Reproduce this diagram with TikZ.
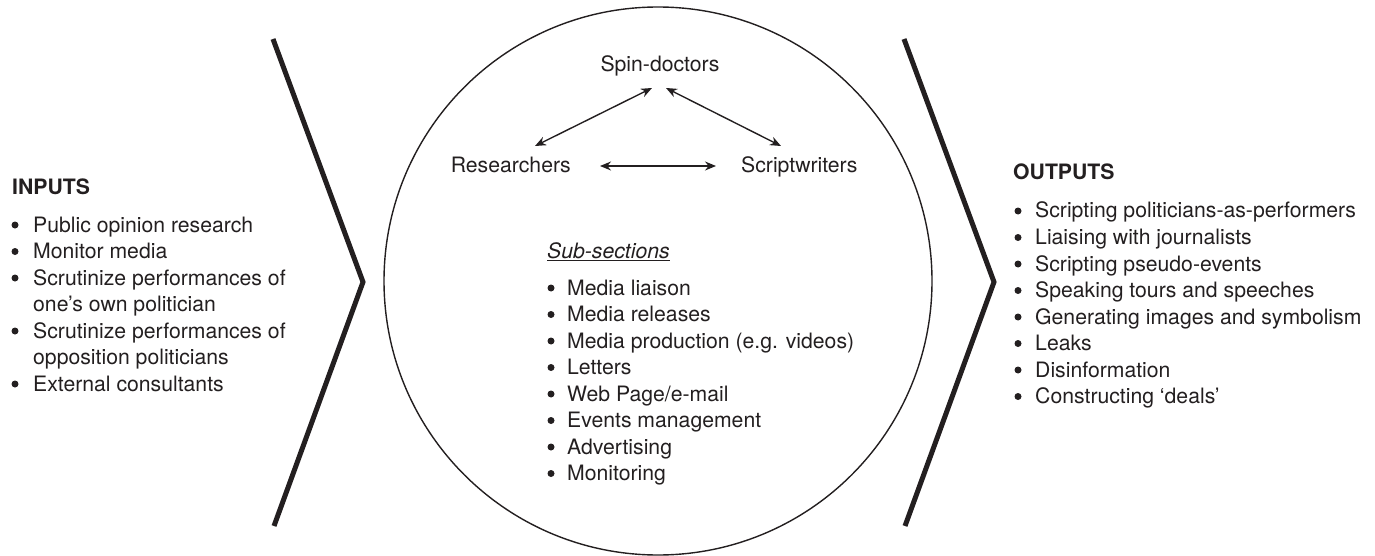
\documentclass[tikz,border=0pt]{standalone}
\usepackage{fontspec}
\setmainfont{TeX Gyre Heros}
\usetikzlibrary{arrows.meta}
\definecolor{ink}{HTML}{231F20}
\tikzset{
  txt/.style={inner sep=0pt, anchor=base west, text=ink, font=\fontsize{21.2}{24}\selectfont},
  ctxt/.style={inner sep=0pt, anchor=base, text=ink, font=\fontsize{21.2}{24}\selectfont},
  bul/.style={circle, fill=ink, inner sep=0pt, minimum size=7pt},
  chev/.style={line width=5pt, draw=ink, line join=miter},
  ring/.style={line width=1.4pt, draw=ink},
  link/.style={line width=1.4pt, draw=ink, {Stealth[length=11pt,width=9pt]}-{Stealth[length=11pt,width=9pt]}}
}
\begin{document}
\begin{tikzpicture}[x=1pt,y=-1pt]
\useasboundingbox (0,0) rectangle (1375,556);
% chevrons
\draw[chev] (273,39) -- (363,282) -- (274,526);
\draw[chev] (904,39) -- (994,282) -- (905,526);
% circle
\draw[ring] (658,281) circle[radius=274];
% triangle of roles
\node[ctxt] (spin) at (660,72) {Spin-doctors};
\node[txt, anchor=base east] (res) at (571,173) {Researchers};
\node[txt] (scr) at (741,173) {Scriptwriters};
\coordinate (sL) at (652,88);
\coordinate (sR) at (666,88);
\coordinate (rT) at (535,146);
\coordinate (wT) at (781,146);
\coordinate (rR) at (600,166);
\coordinate (wL) at (716,166);
\draw[link] (rT) -- (sL);
\draw[link] (sR) -- (wT);
\draw[link] (rR) -- (wL);
% inputs
\node[txt, font=\bfseries\fontsize{21.2}{24}\selectfont] (inh) at (12,195) {INPUTS};
\foreach \i/\b/\t/\y in {1/1/Public opinion research/232,
                         2/1/Monitor media/258.5,
                         3/1/Scrutinize performances of/285,
                         4/0/one’s own politician/311.5,
                         5/1/Scrutinize performances of/338,
                         6/0/opposition politicians/364.5,
                         7/1/External consultants/391}{
  \node[txt] (in\i) at (33,\y) {\t};
  \ifnum\b=1 \node[bul] (inb\i) at (15,\y-7) {};\fi
}
% sub-sections
\node[txt, font=\itshape\fontsize{21.2}{24}\selectfont] (subh) at (547,258) {\underline{Sub-sections}};
\foreach \i/\t/\y in {1/Media liaison/295,
                      2/Media releases/321.5,
                      3/Media production (e.g. videos)/348,
                      4/Letters/374.5,
                      5/Web Page\slash e-mail/401,
                      6/Events management/427.5,
                      7/Advertising/454,
                      8/Monitoring/480.5}{
  \node[txt] (sub\i) at (567,\y) {\t};
  \node[bul] (subb\i) at (551,\y-7) {};
}
% outputs
\node[txt, font=\bfseries\fontsize{21.2}{24}\selectfont] (outh) at (1013,180) {OUTPUTS};
\foreach \i/\t/\y in {1/Scripting politicians-as-performers/218,
                      2/Liaising with journalists/244.5,
                      3/Scripting pseudo-events/271,
                      4/Speaking tours and speeches/297.5,
                      5/Generating images and symbolism/324,
                      6/Leaks/350.5,
                      7/Disinformation/377,
                      8/Constructing ‘deals’/403.5}{
  \node[txt] (out\i) at (1035,\y) {\t};
  \node[bul] (outb\i) at (1018,\y-7) {};
}
\end{tikzpicture}
\end{document}
